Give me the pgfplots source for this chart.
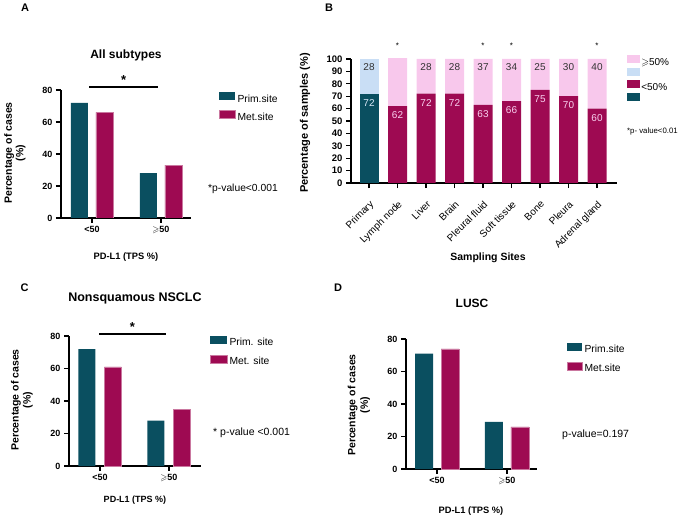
\documentclass[border=0pt]{standalone}
\usepackage{amssymb}
\usepackage{pgfplots}
\pgfplotsset{compat=1.18}
\usepackage{pgfplotstable}
\usepackage{fontspec}
\setmainfont{Liberation Sans}
\definecolor{cteal}{RGB}{10,79,96}
\definecolor{ccrim}{RGB}{158,10,82}
\definecolor{cpink}{RGB}{248,200,236}
\definecolor{cblue}{RGB}{201,222,245}
\newcommand{\fs}[2]{\fontsize{#1}{#2}\selectfont}

\pgfplotstableread{
x teal crim blue pink lteal lcrim lblue lpink
0 72 0  28 0  72 {} 28 {}
1 0  62 0  39 {} 62 {} 39
2 0  72 0  28 {} 72 {} 28
3 0  72 0  28 {} 72 {} 28
4 0  63 0  37 {} 63 {} 37
5 0  66 0  34 {} 66 {} 34
6 0  75 0  25 {} 75 {} 25
7 0  70 0  30 {} 70 {} 30
8 0  60 0  40 {} 60 {} 40
}\sitedata

\pgfplotsset{
  panel/.style={
    scale only axis,
    axis x line*=bottom, axis y line*=left,
    axis line style={line width=1.2pt, black},
    major tick length=5pt, tick align=outside,
    xtick style={line width=1.2pt, black},
    ytick style={line width=1.2pt, black},
    ticklabel style={font=\bfseries\fs{9}{10}},
    /pgf/number format/assume math mode=true,
    clip mode=individual,
    legend cell align=left,
    legend style={draw=none, fill=none, inner sep=0pt, font=\fs{10.3}{12},
      nodes={inner sep=2pt, text height=7pt, text depth=2pt}},
  },
  sqlegend/.style={legend image code/.code={\fill[##1] (0pt,-0.5pt) rectangle (#1,7.5pt);}},
}

\begin{document}
\begin{tikzpicture}
\path[use as bounding box] (0,0) rectangle (680pt,520pt);

% ---------- Panel A ----------
\begin{axis}[panel, at={(61pt,302pt)}, anchor=south west,
  width=130pt, height=128pt,
  xmin=-0.449, xmax=1.435, ymin=0, ymax=80,
  ytick={0,20,40,60,80}, xtick={0,1},
  xticklabels={\textless50, $\geqslant$50},
  ybar, bar width=17pt, sqlegend=16pt,
  legend style={at={(1.215,0.985)}, anchor=north west, row sep=4pt}]
\addplot[fill=cteal, draw=none, bar shift=-12.5pt] coordinates {(0,72) (1,28)};
\addplot[fill=ccrim, draw=ccrim!55!white, line width=0.4pt, bar shift=12.5pt] coordinates {(0,66) (1,33)};
\legend{Prim.site, Met.site}
\draw[line width=1.2pt] (axis cs:-0.04,81.9) -- (axis cs:0.957,81.9);
\node[font=\bfseries\fs{13}{13}] at (axis cs:0.46,86.5) {*};
\end{axis}

% ---------- Panel B ----------
\begin{axis}[panel, at={(351pt,337pt)}, anchor=south west,
  width=266pt, height=124pt,
  xmin=-0.632, xmax=8.70, ymin=0, ymax=100,
  ytick={0,10,...,100},
  ticklabel style={font=\bfseries\fs{9.5}{10}},
  xtick={0,...,8},
  xticklabels={Primary, Lymph node, Liver, Brain, Pleural fluid, Soft tissue, Bone, Pleura, Adrenal gland},
  xticklabel style={rotate=45, anchor=north east, font=\fs{10}{11}},
  xticklabel shift=7pt,
  ybar stacked, bar width=19pt, sqlegend=13pt,
  legend style={at={(1.038,1.035)}, anchor=north west, row sep=0pt, font=\fs{10}{11},
     nodes={inner sep=1pt, text height=7pt, text depth=1.6pt}},
  reverse legend,
  point meta=explicit symbolic, nodes near coords,
  every node near coord/.append style={anchor=center, font=\fs{10}{11}}]
\addplot[fill=cteal, draw=none,
  visualization depends on={\thisrow{teal} \as \ry},
  every node near coord/.append style={text=cblue!70!white, yshift={\ry*0.62pt-9.2pt}}]
  table[x=x, y=teal, meta=lteal] {\sitedata};
\addplot[fill=ccrim, draw=none,
  visualization depends on={\thisrow{crim} \as \ry},
  every node near coord/.append style={text=cpink!85!white, yshift={\ry*0.62pt-9.2pt}}]
  table[x=x, y=crim, meta=lcrim] {\sitedata};
\addplot[fill=cblue, draw=none,
  visualization depends on={\thisrow{blue} \as \ry},
  every node near coord/.append style={text=black!80, yshift={\ry*0.62pt-8pt}}]
  table[x=x, y=blue, meta=lblue] {\sitedata};
\addplot[fill=cpink, draw=none,
  visualization depends on={\thisrow{pink} \as \ry},
  every node near coord/.append style={text=black!80, yshift={\ry*0.62pt-8pt}}]
  table[x=x, y=pink, meta=lpink] {\sitedata};
\legend{\mbox{}, \textless50\%, \mbox{}, $\geqslant$50\%}
\node[font=\fs{8}{8}] at (axis cs:1,111) {*};
\node[font=\fs{8}{8}] at (axis cs:4,111) {*};
\node[font=\fs{8}{8}] at (axis cs:5,111) {*};
\node[font=\fs{8}{8}] at (axis cs:8,111) {*};
\end{axis}

% ---------- Panel C ----------
\begin{axis}[panel, at={(69pt,54pt)}, anchor=south west,
  width=132pt, height=130pt,
  xmin=-0.449, xmax=1.464, ymin=0, ymax=80,
  ytick={0,20,40,60,80}, xtick={0,1},
  xticklabels={\textless50, $\geqslant$50},
  ybar, bar width=17pt, sqlegend=17pt,
  legend style={at={(1.068,1.004)}, anchor=north west, row sep=5pt}]
\addplot[fill=cteal, draw=none, bar shift=-13pt] coordinates {(0,72) (1,28)};
\addplot[fill=ccrim, draw=ccrim!55!white, line width=0.4pt, bar shift=13pt] coordinates {(0,61) (1,35)};
\legend{Prim. site, Met. site}
\draw[line width=1.2pt] (axis cs:-0.014,81.2) -- (axis cs:0.957,81.2);
\node[font=\bfseries\fs{13}{13}] at (axis cs:0.47,85.8) {*};
\end{axis}

% ---------- Panel D ----------
\begin{axis}[panel, at={(406pt,51pt)}, anchor=south west,
  width=131pt, height=130pt,
  xmin=-0.443, xmax=1.429, ymin=0, ymax=80,
  ytick={0,20,40,60,80}, xtick={0,1},
  xticklabels={\textless50, $\geqslant$50},
  ybar, bar width=18pt, sqlegend=15pt,
  legend style={at={(1.229,0.973)}, anchor=north west, row sep=5pt}]
\addplot[fill=cteal, draw=none, bar shift=-13pt] coordinates {(0,71) (1,29)};
\addplot[fill=ccrim, draw=ccrim!55!white, line width=0.4pt, bar shift=13pt] coordinates {(0,74) (1,26)};
\legend{Prim.site, Met.site}
\end{axis}

% ---------- Text ----------
\node[font=\bfseries\fs{11}{12}] at (25pt,512pt) {A};
\node[font=\bfseries\fs{11}{12}] at (329pt,512pt) {B};
\node[font=\bfseries\fs{11}{12}] at (24.5pt,232pt) {C};
\node[font=\bfseries\fs{11}{12}] at (338pt,232pt) {D};

\node[font=\bfseries\fs{12}{13}] at (126pt,465pt) {All subtypes};
\node[font=\bfseries\fs{12.5}{13}] at (135pt,222pt) {Nonsquamous NSCLC};
\node[font=\bfseries\fs{12}{13}] at (472pt,217pt) {LUSC};

\node[rotate=90, align=center, font=\bfseries\fs{10.5}{11.5}] at (15pt,367pt) {Percentage of cases\\(\%)};
\node[rotate=90, font=\bfseries\fs{11}{12}] at (305pt,397pt) {Percentage of samples (\%)};
\node[rotate=90, align=center, font=\bfseries\fs{10.5}{12}] at (22pt,120pt) {Percentage of cases\\(\%)};
\node[rotate=90, align=center, font=\bfseries\fs{10.5}{12.5}] at (359pt,115pt) {Percentage of cases\\(\%)};

\node[font=\bfseries\fs{9.3}{10}] at (126pt,263pt) {PD-L1 (TPS \%)};
\node[font=\bfseries\fs{10.5}{11}] at (488pt,262pt) {Sampling Sites};
\node[font=\bfseries\fs{9}{10}] at (135pt,20pt) {PD-L1 (TPS \%)};
\node[font=\bfseries\fs{9.3}{10}] at (471pt,9pt) {PD-L1 (TPS \%)};

\node[anchor=west, inner sep=0pt, font=\fs{10.3}{11}] at (208pt,331pt) {*p-value\textless0.001};
\node[anchor=west, inner sep=0pt, font=\fs{7.8}{9}] at (627pt,389pt) {*p- value\textless0.01};
\node[anchor=west, inner sep=0pt, font=\fs{10.5}{11}] at (213pt,87pt) {* p-value \textless0.001};
\node[anchor=west, inner sep=0pt, font=\fs{10.5}{11}] at (562pt,85pt) {p-value=0.197};
\end{tikzpicture}
\end{document}
